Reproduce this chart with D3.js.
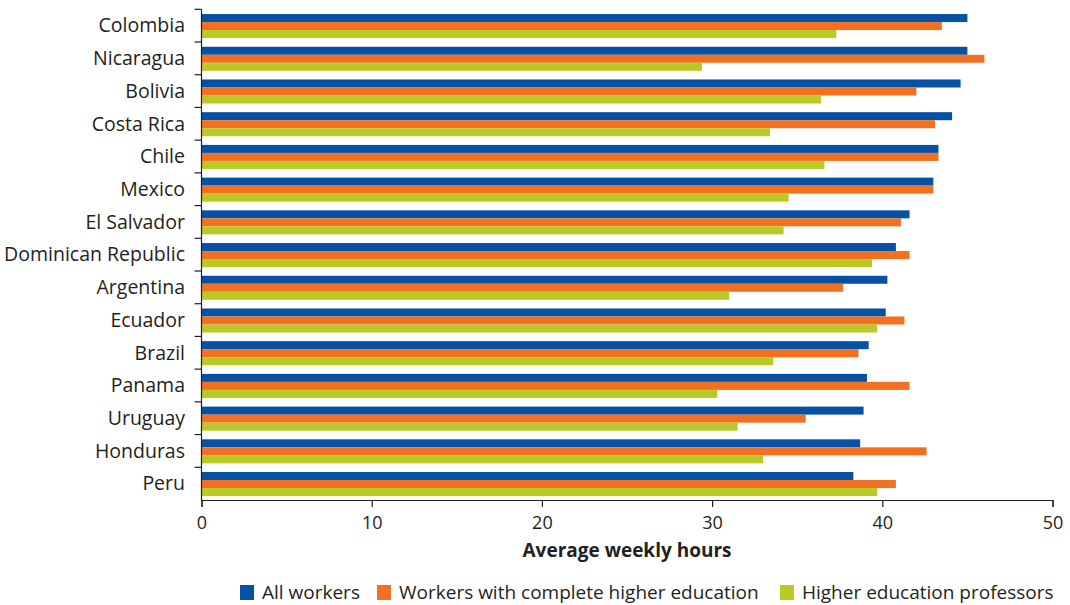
<!DOCTYPE html>
<html>
<head>
<meta charset="utf-8">
<script src="https://cdnjs.cloudflare.com/ajax/libs/d3/7.8.5/d3.min.js"></script>
<style>
  body { margin: 0; background: #fff; }
  svg text { font-family: "Open Sans", sans-serif; fill: #231f20; }
</style>
</head>
<body>
<svg id="chart" width="1070" height="605"></svg>
<script>
// data
var countries = ["Colombia", "Nicaragua", "Bolivia", "Costa Rica", "Chile", "Mexico", "El Salvador",
  "Dominican Republic", "Argentina", "Ecuador", "Brazil", "Panama", "Uruguay", "Honduras", "Peru"]
var allWorkers = [45.0, 45.0, 44.6, 44.1, 43.3, 43.0, 41.6, 40.8, 40.3, 40.2, 39.2, 39.1, 38.9, 38.7, 38.3]
var higherEdWorkers = [43.5, 46.0, 42.0, 43.1, 43.3, 43.0, 41.1, 41.6, 37.7, 41.3, 38.6, 41.6, 35.5, 42.6, 40.8]
var professors = [37.3, 29.4, 36.4, 33.4, 36.6, 34.5, 34.2, 39.4, 31.0, 39.7, 33.6, 30.3, 31.5, 33.0, 39.7]
var seriesNames = ["All workers", "Workers with complete higher education", "Higher education professors"]
var xTicks = [0, 10, 20, 30, 40, 50]

var colors = ["#0451a5", "#f37021", "#bac926"]
var series = [allWorkers, higherEdWorkers, professors]

var svg = d3.select("#chart")
var mLeft = 201.5, mRight = 1052.5, mTop = 9.3, mBottom = 500

var x = d3.scaleLinear().domain([0, 50]).range([mLeft, mRight])
var y = d3.scaleBand().domain(countries).range([mTop, mBottom]).padding(0)
var y1 = d3.scaleBand().domain([0, 1, 2])
  .range([y.bandwidth() * 0.145, y.bandwidth() * 0.88]).padding(0)

var groups = svg.selectAll("g.country")
  .data(countries)
  .enter()
    .append("g")
    .attr("class", "country")
    .attr("transform", function(d) { return "translate(0," + y(d) + ")" })

groups.selectAll("rect")
  .data(function(d, i) { return series.map(function(s, k) { return {k: k, v: s[i]} }) })
  .enter()
    .append("rect")
    .attr("x", x(0))
    .attr("y", function(d) { return y1(d.k) })
    .attr("width", function(d) { return x(d.v) - x(0) })
    .attr("height", y1.bandwidth())
    .attr("fill", function(d) { return colors[d.k] })

// y axis: line, boundary ticks, labels
svg.append("line")
  .attr("x1", mLeft).attr("x2", mLeft).attr("y1", mTop).attr("y2", mBottom)
  .attr("stroke", "#231f20").attr("stroke-width", 1.2)

svg.selectAll("line.ytick")
  .data(countries)
  .enter()
    .append("line")
    .attr("class", "ytick")
    .attr("x1", mLeft - 7).attr("x2", mLeft)
    .attr("y1", function(d) { return y(d) }).attr("y2", function(d) { return y(d) })
    .attr("stroke", "#231f20").attr("stroke-width", 1.2)

svg.selectAll("text.ylabel")
  .data(countries)
  .enter()
    .append("text")
    .attr("class", "ylabel")
    .attr("x", 185)
    .attr("y", function(d) { return y(d) + y.bandwidth() / 2 })
    .attr("dy", "0.35em")
    .attr("text-anchor", "end")
    .style("font-size", "19.5px")
    .text(function(d) { return d })

// x axis
var xAxis = svg.append("g")
  .attr("transform", "translate(0," + mBottom + ")")
  .call(d3.axisBottom(x).tickValues(xTicks).tickSize(7).tickSizeOuter(7))

xAxis.select(".domain").attr("stroke", "#231f20").attr("stroke-width", 1.2)
xAxis.selectAll(".tick line").attr("stroke", "#231f20").attr("stroke-width", 1.2)
xAxis.selectAll(".tick text")
  .attr("y", 16)
  .style("font-size", "18px")
  .style("font-family", "'Open Sans', sans-serif")
  .attr("fill", "#231f20")

svg.append("text")
  .attr("x", (mLeft + mRight) / 2)
  .attr("y", 557)
  .attr("text-anchor", "middle")
  .style("font-size", "19px")
  .style("font-weight", "bold")
  .text("Average weekly hours")

// legend
var legendX = [240, 377, 780]
var legend = svg.selectAll("g.legend")
  .data(seriesNames)
  .enter()
    .append("g")
    .attr("class", "legend")
    .attr("transform", function(d, i) { return "translate(" + legendX[i] + ",585)" })

legend.append("rect")
  .attr("width", 14).attr("height", 15)
  .attr("fill", function(d, i) { return colors[i] })

legend.append("text")
  .attr("x", 22).attr("y", 14)
  .style("font-size", "19px")
  .text(function(d) { return d })
</script>
</body>
</html>
